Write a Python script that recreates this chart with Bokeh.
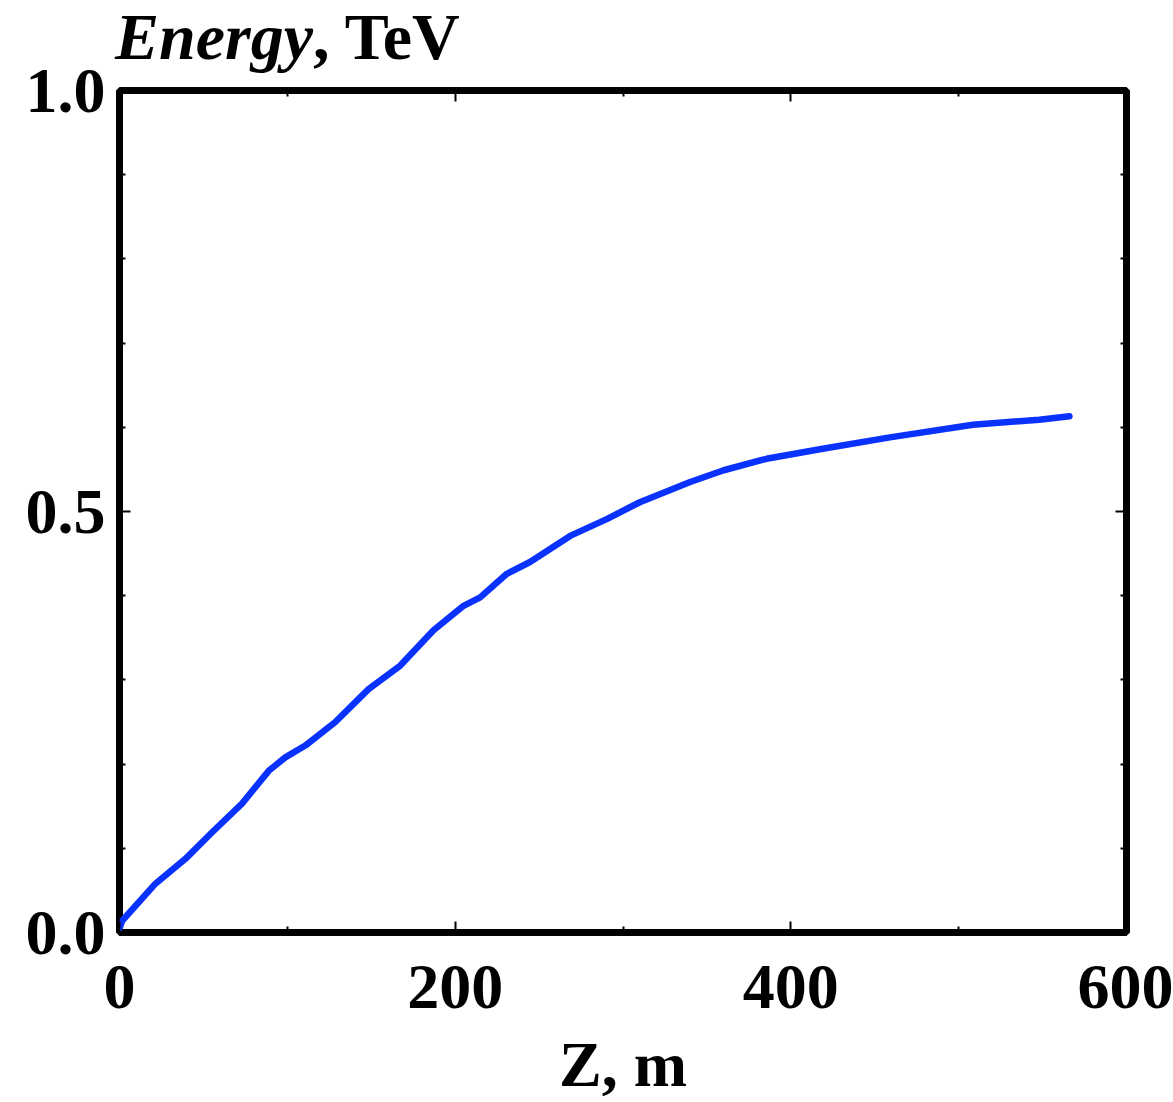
from bokeh.plotting import figure
from bokeh.models import Range1d, LinearAxis, FixedTicker, Div
from bokeh.layouts import column
from bokeh.embed import file_html
from bokeh.resources import INLINE

# Energy of the beam along the path
z_m = [0, 1.6, 21.4, 39.3, 55.2, 73, 88.9, 98.8, 110.7, 128.6, 148.4, 167.3,
       187.1, 205, 214.9, 230.8, 244.6, 268.5, 290.3, 310, 340, 360, 385.5,
       419, 459, 508.5, 548, 566]
energy_tev = [0.005, 0.014, 0.058, 0.0875, 0.119, 0.153, 0.192, 0.208, 0.222,
              0.250, 0.289, 0.317, 0.359, 0.388, 0.398, 0.426, 0.440, 0.471,
              0.491, 0.511, 0.535, 0.549, 0.5626, 0.5745, 0.588, 0.603, 0.609,
              0.613]

x_major = [0, 200, 400, 600]
x_minor = [100, 300, 500]
y_major = [0.0, 0.5, 1.0]
y_minor = [0.1, 0.2, 0.3, 0.4, 0.6, 0.7, 0.8, 0.9]
y_labels = {0.0: "0.0", 0.5: "0.5", 1.0: "1.0"}

FONT = "Liberation Serif"
FS = "64px"
HEAD_H = 40
FRAME_TOP = 90

# Quantity name and unit written above the frame; the descenders run
# over into the transparent top border of the figure below it
head = Div(text='<span style="font-style:italic">Energy</span>, TeV',
           width=1173, height=HEAD_H, margin=(0, 0, 0, 0),
           styles={"font-family": FONT, "font-weight": "bold",
                   "font-size": "66px", "line-height": "66px",
                   "padding-left": "115px", "padding-top": "4px",
                   "color": "black", "white-space": "nowrap",
                   "overflow": "visible", "position": "relative",
                   "z-index": "5"})

p = figure(width=1173, height=1102 - HEAD_H, output_backend="svg",
           toolbar_location=None, margin=(0, 0, 0, 0),
           x_range=Range1d(0, 600), y_range=Range1d(0, 1.0),
           x_axis_location=None, y_axis_location=None,
           min_border_left=119, min_border_right=47,
           min_border_top=FRAME_TOP - HEAD_H, min_border_bottom=170)
p.xgrid.visible = False
p.ygrid.visible = False
p.background_fill_color = "white"
p.border_fill_color = None
p.outline_line_color = "black"
p.outline_line_width = 7


def style_axis(ax, labels=True):
    ax.axis_line_color = None
    ax.major_tick_in = 11
    ax.major_tick_out = 0
    ax.minor_tick_in = 6
    ax.minor_tick_out = 0
    ax.major_tick_line_width = 2
    ax.minor_tick_line_width = 2
    ax.major_tick_line_color = "black"
    ax.minor_tick_line_color = "black"
    if labels:
        ax.major_label_text_font = FONT
        ax.major_label_text_font_style = "bold"
        ax.major_label_text_font_size = FS
        ax.major_label_text_color = "black"
    else:
        # mirrored ticks only, no numbers
        ax.major_label_text_font_size = "1px"
        ax.major_label_text_color = None
        ax.major_label_standoff = 0


xt = FixedTicker(ticks=x_major, minor_ticks=x_minor)
yt = FixedTicker(ticks=y_major, minor_ticks=y_minor)

bottom = LinearAxis(ticker=xt, axis_label="Z, m")
style_axis(bottom)
bottom.major_label_standoff = 33
bottom.axis_label_text_font = FONT
bottom.axis_label_text_font_style = "bold"
bottom.axis_label_text_font_size = FS
bottom.axis_label_text_color = "black"
bottom.axis_label_standoff = 18
p.add_layout(bottom, "below")

top = LinearAxis(ticker=xt)
style_axis(top, labels=False)
p.add_layout(top, "above")

left = LinearAxis(ticker=yt, major_label_overrides=y_labels)
style_axis(left)
left.major_label_standoff = 14
p.add_layout(left, "left")

right = LinearAxis(ticker=yt)
style_axis(right, labels=False)
p.add_layout(right, "right")

p.line(z_m, energy_tev, line_color="#0a32ff", line_width=6.5,
       line_join="round", line_cap="round")

layout = column(head, p, margin=(0, 0, 0, 0))
open("out.html", "w").write(file_html(layout, INLINE))
